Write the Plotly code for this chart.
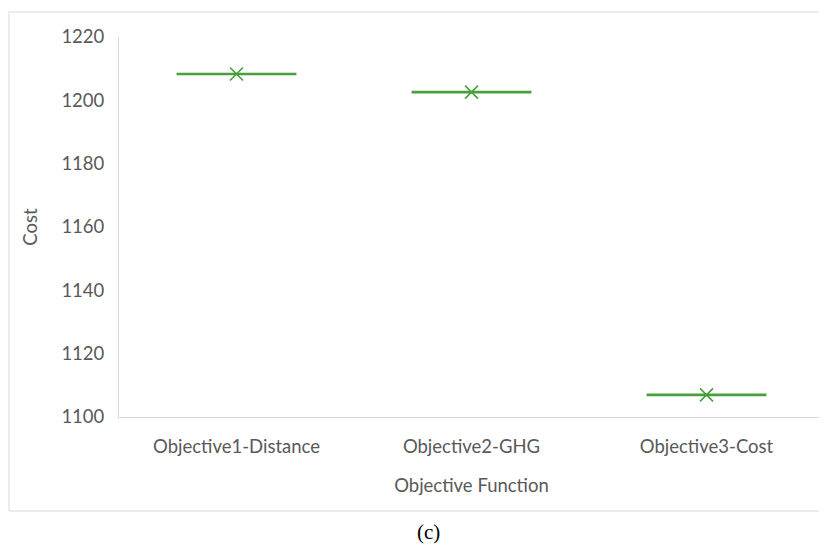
import plotly.graph_objects as go

categories = ["Objective1-Distance", "Objective2-GHG", "Objective3-Cost"]
values = [1208.3, 1202.6, 1107.0]
y_ticks = [1100, 1120, 1140, 1160, 1180, 1200, 1220]

GREEN = "#47A03B"
GRAY_TXT = "#595959"
BORDER = "#D9D9D9"
FONT = "Lato"
FS = 18.5

# page is offset by the 8px body margin; plot area in page px: x 119..824, y 37..417
OFF = 8
PL, PR, PT, PB = 119, 824, 37, 417
W, H = 827 - OFF, 545 - OFF

def px_x(p):
    return (p - PL) / (PR - PL)

def px_y(p):
    return (PB - p) / (PB - PT)

fig = go.Figure()
fig.add_trace(go.Box(
    x=categories,
    q1=values, median=values, q3=values,
    lowerfence=values, upperfence=values,
    line=dict(color=GREEN, width=2.6),
    fillcolor="rgba(0,0,0,0)",
    whiskerwidth=0.5,
    hoverinfo="skip",
    showlegend=False,
))
fig.add_trace(go.Scatter(
    x=categories, y=values, mode="markers",
    marker=dict(symbol="x-thin", size=13, line=dict(color=GREEN, width=1.6)),
    showlegend=False,
))

bx0, bx1, by0, by1 = px_x(9), px_x(860), px_y(511), px_y(12)
border = [
    dict(type="line", xref="paper", yref="paper", x0=bx0, x1=bx1, y0=by1, y1=by1),
    dict(type="line", xref="paper", yref="paper", x0=bx0, x1=bx0, y0=by0, y1=by1),
    dict(type="line", xref="paper", yref="paper", x0=bx0, x1=bx1, y0=by0, y1=by0),
]
for s in border:
    s.update(line=dict(color=BORDER, width=1), layer="below")

fig.update_layout(
    width=W, height=H,
    margin=dict(l=PL - OFF, r=W - (PR - OFF), t=PT - OFF, b=H - (PB - OFF)),
    paper_bgcolor="white", plot_bgcolor="white",
    boxgap=0.49, boxgroupgap=0,
    font=dict(family=FONT, color=GRAY_TXT, size=FS),
    xaxis=dict(
        type="category", range=[-0.5, 2.5],
        showline=True, linecolor=BORDER, linewidth=1,
        showgrid=False, ticks="", zeroline=False,
        tickfont=dict(family=FONT, size=FS, color=GRAY_TXT),
        ticklabelstandoff=13,
        title=dict(text="Objective Function", font=dict(family=FONT, size=FS, color=GRAY_TXT), standoff=22),
    ),
    yaxis=dict(
        range=[1100, 1220], tickvals=y_ticks,
        showline=True, linecolor=BORDER, linewidth=1,
        showgrid=False, ticks="", zeroline=False,
        tickfont=dict(family=FONT, size=FS, color=GRAY_TXT),
        ticklabelstandoff=10,
        title=dict(text="Cost", font=dict(family=FONT, size=FS, color=GRAY_TXT), standoff=18),
    ),
    shapes=border,
    annotations=[dict(
        text="(c)", xref="paper", yref="paper",
        x=px_x(428), y=px_y(532),
        showarrow=False, xanchor="center", yanchor="middle",
        font=dict(family="Liberation Serif", size=21, color="black"),
    )],
)

fig.write_html("out.html")
